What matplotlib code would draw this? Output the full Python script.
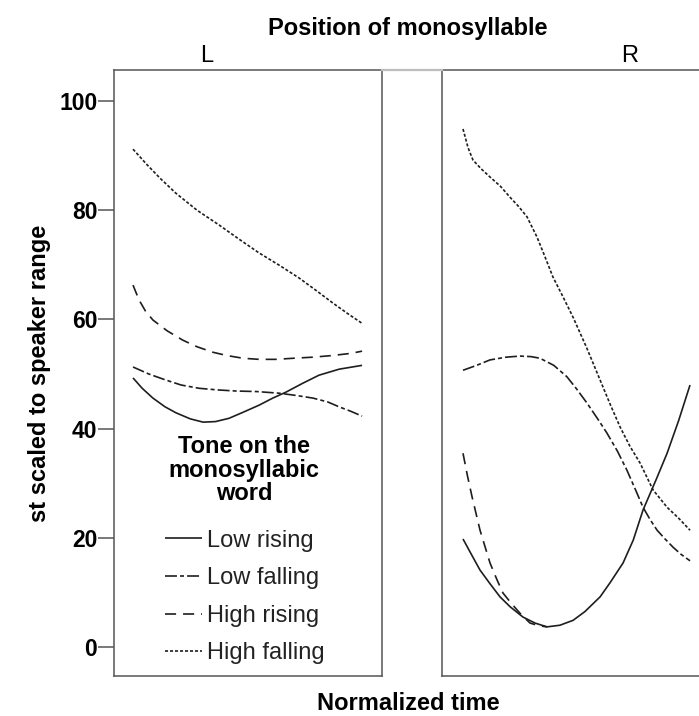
import matplotlib
matplotlib.use('Agg')
import matplotlib.pyplot as plt
from matplotlib.lines import Line2D

plt.rcParams['font.family'] = ['Liberation Sans', 'DejaVu Sans']
plt.rcParams['lines.scale_dashes'] = False

# ---------------- data ----------------
tones = ['Low rising', 'Low falling', 'High rising', 'High falling']
positions = ['L', 'R']
y_ticks = [0, 20, 40, 60, 80, 100]

# Left panel (monosyllable in position L)
L_lr_t = [0.0, 0.04, 0.087, 0.14, 0.188, 0.25, 0.306, 0.36, 0.419, 0.48, 0.550, 0.61, 0.668, 0.74, 0.812, 0.90, 1.0]
L_lr_v = [49.3, 47.4, 45.6, 44.0, 42.9, 41.8, 41.2, 41.3, 41.9, 43.0, 44.3, 45.6, 46.7, 48.3, 49.8, 50.9, 51.6]
L_lf_t = [0.0, 0.07, 0.144, 0.21, 0.288, 0.37, 0.450, 0.54, 0.638, 0.71, 0.786, 0.85, 0.900, 0.95, 1.0]
L_lf_v = [51.3, 50.0, 48.9, 48.0, 47.4, 47.1, 46.9, 46.8, 46.5, 46.1, 45.6, 44.9, 44.0, 43.2, 42.3]
L_hr_t = [0.0, 0.026, 0.055, 0.087, 0.15, 0.218, 0.28, 0.349, 0.41, 0.480, 0.55, 0.624, 0.70, 0.786, 0.87, 0.952, 1.0]
L_hr_v = [66.3, 63.6, 61.5, 59.9, 57.9, 56.2, 55.0, 54.0, 53.4, 52.9, 52.7, 52.7, 52.9, 53.1, 53.4, 53.8, 54.2]
L_hf_t = [0.0, 0.06, 0.12, 0.188, 0.28, 0.376, 0.46, 0.550, 0.64, 0.725, 0.80, 0.873, 0.94, 1.0]
L_hf_v = [91.2, 88.4, 85.8, 83.1, 80.0, 77.3, 74.8, 72.2, 69.9, 67.6, 65.3, 63.0, 61.0, 59.3]

# Right panel (monosyllable in position R)
R_lr_t = [0.0, 0.03, 0.075, 0.119, 0.163, 0.207, 0.264, 0.317, 0.370, 0.427, 0.485, 0.537, 0.604, 0.648, 0.705, 0.75, 0.793, 0.85, 0.899, 0.95, 1.0]
R_lr_v = [19.8, 17.5, 14.1, 11.6, 9.2, 7.4, 5.5, 4.4, 3.7, 4.0, 4.9, 6.5, 9.2, 11.8, 15.4, 19.6, 25.1, 30.6, 35.5, 41.5, 48.0]
R_lf_t = [0.0, 0.06, 0.119, 0.19, 0.251, 0.30, 0.339, 0.40, 0.458, 0.50, 0.546, 0.59, 0.634, 0.68, 0.722, 0.76, 0.793, 0.825, 0.855, 0.89, 0.925, 0.96, 1.0]
R_lf_v = [50.7, 51.6, 52.6, 53.1, 53.3, 53.2, 52.9, 51.6, 49.5, 47.3, 44.7, 42.0, 39.2, 35.9, 32.4, 28.8, 25.6, 23.3, 21.4, 19.8, 18.3, 17.0, 15.8]
R_hr_t = [0.0, 0.020, 0.040, 0.075, 0.119, 0.150, 0.176, 0.215, 0.251, 0.295, 0.335, 0.370]
R_hr_v = [35.5, 31.3, 27.5, 21.4, 15.4, 12.3, 9.9, 7.9, 6.2, 4.4, 3.9, 3.7]
R_hf_t = [0.0, 0.022, 0.044, 0.08, 0.119, 0.165, 0.207, 0.245, 0.282, 0.326, 0.36, 0.396, 0.44, 0.485, 0.545, 0.604, 0.65, 0.692, 0.735, 0.780, 0.837, 0.899, 0.95, 1.0]
R_hf_v = [94.9, 91.5, 89.2, 87.6, 86.1, 84.4, 82.4, 80.7, 78.8, 75.1, 71.6, 67.8, 64.2, 60.4, 54.8, 48.9, 44.3, 40.3, 36.8, 33.7, 28.8, 25.6, 23.6, 21.4]

# ---------------- styling ----------------
W, H = 699, 716
LINE_C = '#1e1e1e'
SPINE_C = '#555555'
styles = {
    'Low rising': '-',
    'Low falling': (0, (8.6, 2.2, 2.9, 2.2)),
    'High rising': (0, (8.0, 5.0)),
    'High falling': (0, (2.2, 1.4)),
}

fig = plt.figure(figsize=(W / 100, H / 100), dpi=100)


def px_axes(x0, x1, y0, y1):
    return fig.add_axes([x0 / W, 1 - y1 / H, (x1 - x0) / W, (y1 - y0) / H])


axL = px_axes(114, 382, 70, 676)
axR = px_axes(442, 710, 70, 676)

series = {
    axL: [(L_lr_t, L_lr_v), (L_lf_t, L_lf_v), (L_hr_t, L_hr_v), (L_hf_t, L_hf_v)],
    axR: [(R_lr_t, R_lr_v), (R_lf_t, R_lf_v), (R_hr_t, R_hr_v), (R_hf_t, R_hf_v)],
}

handles = []
for ax, data in series.items():
    for tone, (t, v) in zip(tones, data):
        ln, = ax.plot(t, v, color=LINE_C, lw=1.2, linestyle=styles[tone],
                      label=tone, solid_capstyle='butt', dash_capstyle='butt',
                      solid_joinstyle='round')
        if ax is axL:
            handles.append(ln)
    ax.set_ylim(-5.3, 105.7)
    for s in ax.spines.values():
        s.set_color(SPINE_C)
        s.set_linewidth(1.1)
    ax.set_xticks([])

axL.set_xlim(-0.083, 1.087)
axR.set_xlim(-0.0925, 1.088)

axL.set_yticks(y_ticks)
axL.set_yticklabels([str(v) for v in y_ticks], fontsize=16.5, fontweight='bold')
axL.tick_params(axis='y', length=11.5, width=1.1, color=SPINE_C, pad=0.5)
axR.set_yticks([])

# connecting light gray line at top between panels
fig.add_artist(Line2D([382 / W, 442 / W], [1 - 70 / H, 1 - 70 / H],
                      transform=fig.transFigure, color='#bdbdbd', lw=1.6))

# texts
fig.text(408 / W, 1 - 28 / H, 'Position of monosyllable', ha='center', va='center',
         fontsize=17, fontweight='bold')
fig.text(207 / W, 1 - 56 / H, positions[0], ha='center', va='center', fontsize=17)
fig.text(630 / W, 1 - 56 / H, positions[1], ha='center', va='center', fontsize=17)
fig.text(408 / W, 1 - 703 / H, 'Normalized time', ha='center', va='center',
         fontsize=17, fontweight='bold')
fig.text(40 / W, 1 - 373 / H, 'st scaled to speaker range', ha='center', va='center',
         rotation=90, fontsize=17, fontweight='bold')

# legend title (centred, three lines)
fig.text(244 / W, 1 - 470 / H, 'Tone on the\nmonosyllabic\nword', ha='center', va='center',
         fontsize=17, fontweight='bold', linespacing=1.05, multialignment='center')

leg = axL.legend(handles=handles, loc='lower left', bbox_to_anchor=(0.19, 0.019),
                 frameon=False, fontsize=17,
                 handlelength=1.57, handletextpad=0.2, borderpad=0, borderaxespad=0,
                 labelspacing=0.66)
for txt in leg.get_texts():
    txt.set_color('#222222')

fig.savefig('out.png', dpi=100)
